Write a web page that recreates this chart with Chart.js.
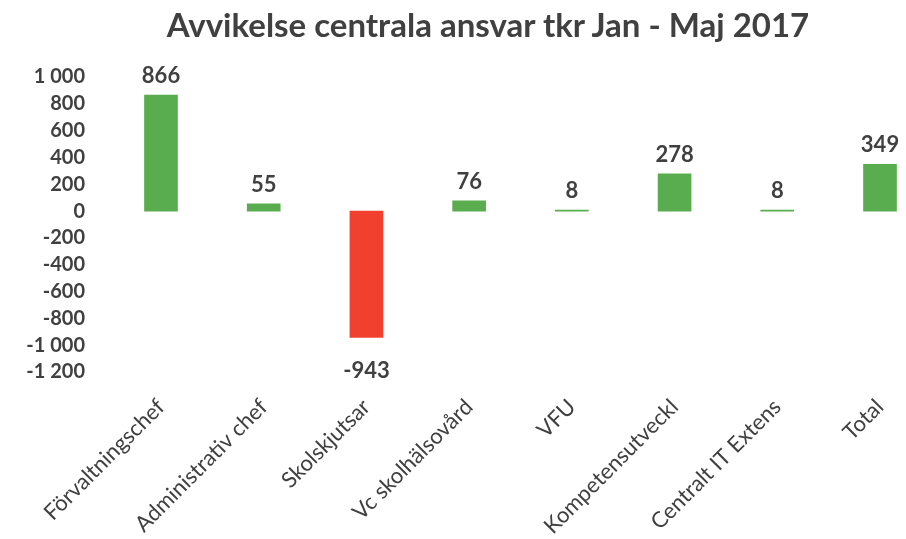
<!DOCTYPE html>
<html>
<head>
<meta charset="utf-8">
<script src="https://cdn.jsdelivr.net/npm/chart.js@4"></script>
<style>
  html, body { margin: 0; padding: 0; background: #fff; }
  #wrap { position: relative; width: 906px; height: 539px; }
  #title {
    position: absolute; left: 0; top: 4px; width: 976px; text-align: center;
    font-family: Lato, sans-serif; font-size: 33px; font-weight: bold; color: #404040;
  }
</style>
</head>
<body>
<div id="wrap">
  <div id="title">Avvikelse centrala ansvar tkr Jan - Maj 2017</div>
  <canvas id="myChart" width="906" height="539"></canvas>
</div>
<script>
// data (tkr)
const categories = ['Förvaltningschef', 'Administrativ chef', 'Skolskjutsar', 'Vc skolhälsovård',
  'VFU', 'Kompetensutveckl', 'Centralt IT Extens', 'Total'];
const deviation = [866, 55, -943, 76, 8, 278, 8, 349];
const yTicks = [1000, 800, 600, 400, 200, 0, -200, -400, -600, -800, -1000, -1200];

const textColor = '#404040';

function fmt(v) {
  // swedish style: space as thousand separator
  const s = String(Math.abs(v)).replace(/\B(?=(\d{3})+(?!\d))/g, ' ');
  return (v < 0 ? '-' : '') + s;
}

// simple value labels above / below bars
const valueLabels = {
  id: 'valueLabels',
  afterDatasetsDraw(chart) {
    const ctx = chart.ctx;
    const meta = chart.getDatasetMeta(0);
    ctx.save();
    ctx.font = 'bold 22px Lato, sans-serif';
    ctx.fillStyle = textColor;
    ctx.textAlign = 'center';
    meta.data.forEach((bar, i) => {
      const v = deviation[i];
      if (v >= 0) {
        ctx.textBaseline = 'bottom';
        ctx.fillText(fmt(v), bar.x, bar.y - 8);
      } else {
        ctx.textBaseline = 'top';
        ctx.fillText(fmt(v), bar.x, bar.y + 22);
      }
    });
    ctx.restore();
  }
};

var ctx = document.getElementById('myChart').getContext('2d');

window.myChart = new Chart(ctx, {
  type: 'bar',
  data: {
    labels: categories,
    datasets: [{
      label: 'Avvikelse',
      data: deviation,
      backgroundColor: deviation.map(v => v < 0 ? '#f2402f' : '#5aad4e'),
      barThickness: 33,
      clip: false
    }]
  },
  options: {
    responsive: false,
    animation: false,
    layout: {
      padding: { top: 77, left: 0, right: 26, bottom: 0 }
    },
    scales: {
      x: {
        offset: false,
        grid: { display: false, drawTicks: false, offset: false },
        border: { display: false },
        // keep plot edges fixed: first/last category sit on the area edges
        afterFit: s => { s.paddingLeft = 0; s.paddingRight = 0; s.height = 167; },
        ticks: {
          color: textColor,
          font: { family: 'Lato, sans-serif', size: 22 },
          minRotation: 45,
          maxRotation: 45,
          autoSkip: false,
          padding: 22
        }
      },
      y: {
        min: -1200,
        max: 1000,
        afterBuildTicks: s => { s.ticks = yTicks.map(v => ({ value: v })); },
        afterFit: s => { s.width = 161; s.paddingTop = 10; s.paddingBottom = 10; },
        grid: { display: false, drawTicks: false },
        border: { display: false },
        ticks: {
          color: textColor,
          font: { family: 'Lato, sans-serif', size: 20, weight: 'bold' },
          padding: 76,
          autoSkip: false,
          callback: v => fmt(v)
        }
      }
    },
    plugins: {
      legend: { display: false },
      title: { display: false },
      tooltip: { enabled: false }
    }
  },
  plugins: [valueLabels]
});
</script>
</body>
</html>
